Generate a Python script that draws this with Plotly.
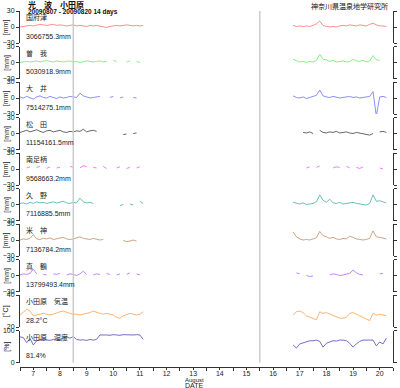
import plotly.graph_objects as go
import pandas as pd

# ---- time grid (3-hourly, Aug 7 00:00 .. Aug 20 21:00) ----
times = pd.date_range("2009-08-07 00:00", periods=112, freq="3h")
GAP = [None] * 44  # no data Aug 11 18:00 .. Aug 17 03:00

# ---- station names / reference values ----
names = ["国府津", "曽　我", "大　井", "松　田", "南足柄", "久　野", "米　神", "真　鶴",
         "小田原　気温", "小田原　湿度"]
ref_texts = ["3066755.3mm", "5030918.9mm", "7514275.1mm", "11154161.5mm", "9568663.2mm",
             "7116885.5mm", "7136784.2mm", "13799493.4mm", "28.2°C", "81.4%"]
units = ["[mm]"] * 8 + ["[°C]", "[%]"]
colors = ["#ff8080", "#77ee77", "#8080ff", "#555555", "#ff66ff", "#55bbb0", "#cc9a70",
          "#bb77ff", "#ffaa60", "#6060c0"]
y_ranges = [[-30, 30]] * 8 + [[20, 40], [0, 100]]
y_ticks = [[-30, 0, 30]] * 8 + [[20, 40], [0, 100]]

# ---- series values (left part Aug 7-11, right part Aug 17-20) ----
kozu_l = [0, 1, 2, 3, 2, 4, 5, 4, 3, 4, 5, 3, 4, 3, 2, 3, 4, 2, 3, 2, 1, 3, 2, 3, 2, 0, -1, 1, 2, 3, 2, 3, 4, 3, 2, 3, 2, 3]
kozu_r = [3, 1, 2, 1, 2, 1, 3, 6, 11, 3, 1, 0, 1, 0, 2, 3, 2, 4, 3, 2, 4, 3, 2, 5, 7, 4, 2, 2, 1]
soga_l = [0, 1, 2, 1, 2, 3, 1, 2, 4, 2, 1, 3, 2, 1, 2, 3, 1, 2, 0, 1, 3, 2, 1, 2, 3, 1, 2, None, 4, 2, None, None, 1, 3, None, 2, 0, None]
soga_r = [6, 3, 1, 2, 0, 2, 1, 4, 15, 6, 5, 2, 4, 1, 2, 3, 1, 2, 6, 3, 2, 4, 1, 3, 13, 5, 4, None, 2]
oi_l = [2, 0, 3, 1, -2, 2, 4, 1, 0, 3, 1, -1, 2, 0, 1, 3, 2, 1, 9, 4, 2, 0, 1, 2, 3, None, None, 1, 3, None, 0, 2, None, None, 1, 0, None, None]
oi_r = [4, 1, 0, 2, -1, 1, 2, 5, 15, 4, 2, 1, 3, 2, 0, 1, 2, 3, 1, 2, 0, 1, 2, 3, 12, -34, 2, 3, 1]
matsuda_l = [2, 4, 6, 3, 5, 7, 4, 2, 5, 6, 3, 4, 6, 3, 2, 4, 3, 5, 4, 8, 3, 5, 6, 4, None, None, None, None, None, None, None, -2, -1, None, 0, 1, None, None]
matsuda_r = [None, None, None, 2, 1, 3, 0, None, 6, 2, 1, 3, 2, 4, 1, 2, 3, 1, 0, 2, 1, -1, -2, -3, 0, None, 3, 4, 2]
minami_l = [None, None, 2, 4, None, 3, 5, None, 1, 4, None, 2, 3, None, None, 5, 3, None, 2, 6, 4, None, 3, 2, None, 5, 1, None, None, 2, 4, None, 1, 3, None, 2, 4, None]
minami_r = [None, None, None, None, 2, 4, None, 3, 6, None, 1, None, 2, 4, 3, None, 5, 2, None, 3, 1, 4, None, None, None, None, 2, 0, None]
kuno_l = [2, 3, 1, 4, 2, 5, 3, 4, 2, 3, 5, 3, 4, 6, 3, 2, 4, 3, 12, 5, 3, 4, 2, None, None, None, None, None, None, None, -2, 0, None, 1, -1, None, 6, 2]
kuno_r = [4, 2, 1, 3, 0, 1, 2, 5, 18, 8, 4, 10, 3, 2, 4, 1, 2, 3, 4, 2, 1, 0, -1, 2, 18, 6, 7, 5, 3]
yonegami_l = [0, 2, 1, 3, 10, 2, 1, 3, 2, 4, 1, 2, 3, 5, 2, 1, 2, 4, 6, 3, 2, 1, 3, 2, 0, 1, None, None, None, None, None, -1, -3, -2, 0, -2, None, None]
yonegami_r = [15, 6, 2, 0, 1, 0, 2, 4, 16, 8, 6, 3, 5, 2, 1, 3, 2, 7, 5, 2, 1, 0, 1, 3, 17, 6, 5, 3, 2]
manazuru_l = [1, 3, 2, 4, 12, 3, None, 2, 1, None, 3, 2, 4, None, 1, 3, 2, 0, 3, 8, 2, None, 1, 3, 2, None, 4, 2, None, 1, 3, None, 2, 5, None, 3, 1, None]
manazuru_r = [None, 5, 3, None, 0, -2, -1, None, None, 2, None, 1, 3, 2, 0, 1, 2, 4, 10, 5, 2, 1, None, None, None, None, 3, 4, None]
temp_l = [27.5, 29, 31, 30, 27, 27.5, 28, 28.5, 28, 27.5, 28, 29, 29.5, 30, 29, 28.5, 28, 28, 27.5, 28, 28.5, 29, 30, 29, 28.5, 28, 28.5, 28, 27.5, 26, 25.5, 27, 28, 28.5, 28, 27.5, 28, 29.5]
temp_r = [27.5, 29.5, 30, 29, 27, 26, 25.5, 24.5, 29.5, 28.5, 29, 28, 27, 26, 25.5, 25.5, 26, 28.5, 29, 28, 27, 26, 25, 24, 28.5, 27.5, 28, 27.5, 27]
humid_l = [80, 78, 62, 75, 55, 68, 72, 70, 71, 69, 72, 74, 70, 78, 80, 76, 81, 72, 70, 71, 69, 72, 70, 72, 86, 87, 86, 85, 87, 86, 85, 87, 86, 85, 86, 87, 86, 72]
humid_r = [55, 45, 58, 62, 65, 68, 68, 70, 66, 48, 60, 64, 68, 67, 70, 70, 68, 60, 48, 58, 66, 70, 70, 72, 70, 52, 64, 58, 76]

lefts = [kozu_l, soga_l, oi_l, matsuda_l, minami_l, kuno_l, yonegami_l, manazuru_l, temp_l, humid_l]
rights = [kozu_r, soga_r, oi_r, matsuda_r, minami_r, kuno_r, yonegami_r, manazuru_r, temp_r, humid_r]

marker_days = ["2009-08-09 00:00", "2009-08-16 00:00"]

# ---- layout geometry (pixels) ----
W, H = 400, 388
L, R, T, B = 20, 3, 11, 21
PH = H - T - B  # 356


def py(px):
    return (H - B - px) / PH


def px_x(px):
    return (px - L) / (W - L - R)


FONT = "Liberation Sans, Arial, Noto Sans CJK JP"
JP = "Noto Sans CJK JP"

fig = go.Figure()
layout = dict(
    width=W, height=H, margin=dict(l=L, r=R, t=T, b=B),
    paper_bgcolor="white", plot_bgcolor="white", showlegend=False,
    font=dict(family=FONT, size=7, color="#222"),
    xaxis=dict(type="date", range=["2009-08-07", "2009-08-21"], domain=[0, 1],
               anchor="free", position=0, tick0="2009-08-07", dtick=86400000,
               ticklabelmode="period", tickformat="%-d", ticks="outside", ticklen=3,
               ticklabelstandoff=-3,
               tickcolor="#333", showline=True, linecolor="#333", linewidth=1,
               showgrid=False, zeroline=False, tickfont=dict(size=7),
               minor=dict(dtick=43200000, ticks="outside", ticklen=2, tickcolor="#333")),
)

annotations = []
shapes = []
for k in range(10):
    top = T + 35.5 * k
    bot = top + 32
    dom = [py(bot), py(top)]
    yname = "yaxis" if k == 0 else f"yaxis{k+1}"
    layout[yname] = dict(domain=dom, anchor="x", range=y_ranges[k], tickvals=y_ticks[k],
                         ticks="outside", ticklen=3, tickcolor="#333",
                         showline=True, linecolor="#333", linewidth=1, mirror="ticks",
                         showgrid=False, zeroline=False, tickfont=dict(size=7))
    vals = lefts[k] + GAP + rights[k]
    fig.add_trace(go.Scatter(x=times, y=vals, mode="lines",
                             line=dict(color=colors[k], width=0.9),
                             xaxis="x", yaxis="y" if k == 0 else f"y{k+1}",
                             connectgaps=False, hoverinfo="skip"))
    annotations.append(dict(text=names[k], x=px_x(24), y=py(top + 6), xref="paper", yref="paper",
                            xanchor="left", yanchor="middle", showarrow=False,
                            font=dict(family=JP, size=7, color="#222")))
    annotations.append(dict(text=ref_texts[k], x=px_x(24), y=py(top + 25), xref="paper", yref="paper",
                            xanchor="left", yanchor="middle", showarrow=False,
                            font=dict(size=7, color="#222")))
    annotations.append(dict(text=units[k], x=px_x(6), y=py(top + 16), xref="paper", yref="paper",
                            xanchor="center", yanchor="middle", textangle=-90, showarrow=False,
                            font=dict(size=7, color="#222")))

for d in marker_days:
    shapes.append(dict(type="line", xref="x", yref="paper", x0=d, x1=d,
                       y0=py(T + 35.5 * 9 + 32), y1=py(T),
                       line=dict(color="#cccccc", width=1.5)))

annotations += [
    dict(text="<b>光　波　小田原</b>", x=px_x(26), y=py(4.5), xref="paper", yref="paper",
         xanchor="left", yanchor="middle", showarrow=False, font=dict(family=JP, size=8, color="#111")),
    dict(text="<b>20090807 - 20090820 14 days</b>", x=px_x(26), y=py(12.5), xref="paper", yref="paper",
         xanchor="left", yanchor="middle", showarrow=False, font=dict(size=6.5, color="#111")),
    dict(text="神奈川県温泉地学研究所", x=px_x(394), y=py(6), xref="paper", yref="paper",
         xanchor="right", yanchor="middle", showarrow=False, font=dict(family=JP, size=7, color="#111")),
    dict(text="August", x=px_x(196), y=py(379.5), xref="paper", yref="paper",
         xanchor="center", yanchor="middle", showarrow=False, font=dict(size=6, color="#222")),
    dict(text="DATE", x=px_x(196), y=py(385), xref="paper", yref="paper",
         xanchor="center", yanchor="middle", showarrow=False, font=dict(size=7, color="#222")),
]

layout["annotations"] = annotations
layout["shapes"] = shapes
fig.update_layout(**layout)
fig.write_html("out.html", config={"displayModeBar": False},
               post_script="document.body.style.margin='0';")
